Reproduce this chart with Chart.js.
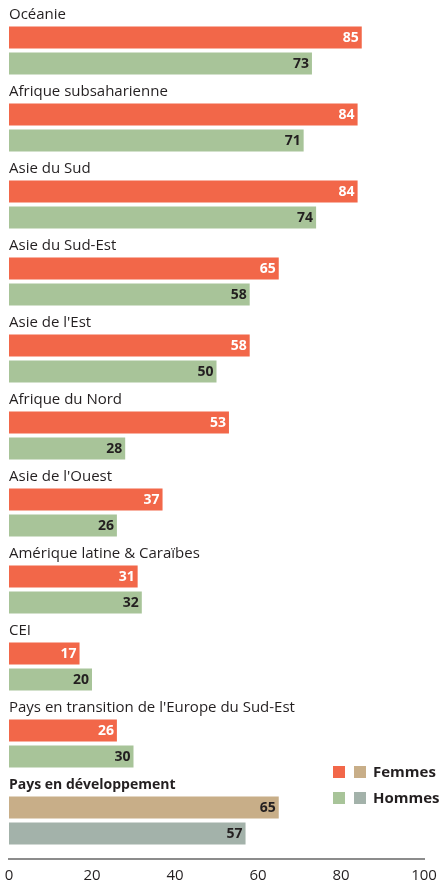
<!DOCTYPE html>
<html>
<head>
<meta charset="utf-8">
<script src="https://cdn.jsdelivr.net/npm/chart.js@4/dist/chart.umd.min.js"></script>
<style>
  body { margin: 0; background: #fff; }
  #wrap { width: 443px; height: 885px; position: relative; }
</style>
</head>
<body>
<div id="wrap"><canvas id="chart"></canvas></div>
<script>
const regions = [
  "Océanie",
  "Afrique subsaharienne",
  "Asie du Sud",
  "Asie du Sud-Est",
  "Asie de l'Est",
  "Afrique du Nord",
  "Asie de l'Ouest",
  "Amérique latine & Caraïbes",
  "CEI",
  "Pays en transition de l'Europe du Sud-Est",
  "Pays en développement",
];
const femmes = [85, 84, 84, 65, 58, 53, 37, 31, 17, 26, 65];
const hommes = [73, 71, 74, 58, 50, 28, 26, 32, 20, 30, 57];
const xTicks = [0, 20, 40, 60, 80, 100];

const RED = "#f26749", GREEN = "#a8c499", TAN = "#c8ae88", GREY = "#a3b2aa";
const FONT = "'Open Sans', sans-serif";
const last = regions.length - 1;

const labelsPlugin = {
  id: "labels",
  afterDatasetsDraw(chart) {
    const ctx = chart.ctx;
    const left = chart.chartArea.left;
    const fMeta = chart.getDatasetMeta(0);
    const hMeta = chart.getDatasetMeta(1);
    ctx.save();
    // region names above each pair
    ctx.fillStyle = "#231f20";
    ctx.textAlign = "left";
    ctx.textBaseline = "alphabetic";
    regions.forEach((name, i) => {
      const bar = fMeta.data[i];
      ctx.font = (i === last ? "bold 14px " : "15px ") + FONT;
      ctx.fillText(name, left, bar.y - bar.height / 2 - 8);
    });
    // values at the end of each bar
    ctx.font = "bold 14px " + FONT;
    ctx.textAlign = "right";
    ctx.textBaseline = "middle";
    fMeta.data.forEach((bar, i) => {
      ctx.fillStyle = i === last ? "#231f20" : "#fff";
      ctx.fillText(femmes[i], bar.x - 3, bar.y + 1);
    });
    hMeta.data.forEach((bar, i) => {
      ctx.fillStyle = "#231f20";
      ctx.fillText(hommes[i], bar.x - 3, bar.y + 1);
    });
    // legend
    const lx = 333, ly = 766;
    [[RED, TAN, "Femmes"], [GREEN, GREY, "Hommes"]].forEach((row, r) => {
      const y = ly + r * 26;
      ctx.fillStyle = row[0];
      ctx.fillRect(lx, y, 12, 12);
      ctx.fillStyle = row[1];
      ctx.fillRect(lx + 21, y, 12, 12);
      ctx.fillStyle = "#231f20";
      ctx.font = "bold 15px " + FONT;
      ctx.textAlign = "left";
      ctx.fillText(row[2], lx + 40, y + 7);
    });
    ctx.restore();
  },
};

new Chart(document.getElementById("chart"), {
  type: "bar",
  data: {
    labels: regions,
    datasets: [
      {
        label: "Femmes",
        data: femmes,
        backgroundColor: femmes.map((_, i) => (i === last ? TAN : RED)),
      },
      {
        label: "Hommes",
        data: hommes,
        backgroundColor: hommes.map((_, i) => (i === last ? GREY : GREEN)),
      },
    ],
  },
  options: {
    indexAxis: "y",
    responsive: true,
    maintainAspectRatio: false,
    animation: false,
    categoryPercentage: 52 / 77,
    barPercentage: 22 / 26,
    layout: { padding: { left: 9, right: 19, top: 12, bottom: 0 } },
    plugins: {
      legend: { display: false },
      tooltip: { enabled: false },
    },
    scales: {
      y: { display: false },
      x: {
        min: 0,
        max: 100,
        afterFit: (scale) => {
          scale.height = 26;
          scale.paddingLeft = 0;
          scale.paddingRight = 0;
        },
        afterBuildTicks: (scale) => { scale.ticks = xTicks.map((v) => ({ value: v })); },
        grid: { display: false, drawTicks: false },
        border: { display: true, color: "#8c8c8c", width: 2 },
        ticks: {
          padding: 8,
          color: "#231f20",
          font: { family: FONT, size: 15 },
        },
      },
    },
  },
  plugins: [labelsPlugin],
});
</script>
</body>
</html>
